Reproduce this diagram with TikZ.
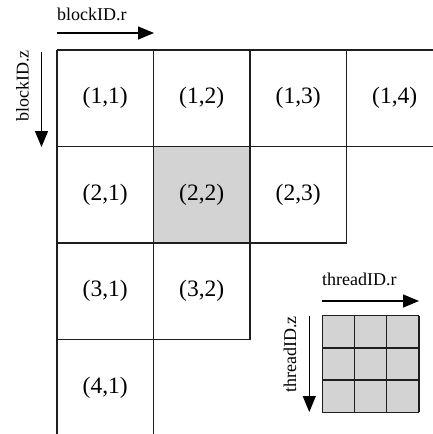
\documentclass[tikz,border=0pt]{standalone}
\usepackage{fontspec}
\setmainfont{Liberation Serif}
\usetikzlibrary{arrows.meta}
\definecolor{gridline}{HTML}{1E1E1E}
\definecolor{cellgrey}{HTML}{D3D3D3}
\tikzset{
  gridl/.style={draw=gridline, line width=1.5pt},
  idx/.style={font=\fontsize{23.5}{23.5}\selectfont, inner sep=0pt},
  axislabel/.style={font=\fontsize{18}{18}\selectfont, inner sep=0pt},
  axisarrow/.style={draw=black, line width=1.3pt, -{Triangle[length=16pt,width=13pt]}},
}
\begin{document}
\begin{tikzpicture}[x=1pt,y=-1pt]
\useasboundingbox (0,0) rectangle (433,434);
% highlighted block
\fill[cellgrey] (153.5,146.5) rectangle (250,243);
% staircase grid of blocks
\draw[gridl] (57,50) -- (433,50);
\draw[gridl] (57,146.5) -- (433,146.5);
\draw[gridl] (57,243) -- (346.5,243);
\draw[gridl] (57,339.5) -- (250,339.5);
\draw[gridl] (57,50) -- (57,434);
\draw[gridl] (153.5,50) -- (153.5,434);
\draw[gridl] (250,50) -- (250,339.5);
\draw[gridl] (346.5,50) -- (346.5,243);
% block indices
\node[idx] (b11) at (105.25,98.25) {(1,1)};
\node[idx] (b12) at (201.75,98.25) {(1,2)};
\node[idx] (b13) at (298.25,98.25) {(1,3)};
\node[idx] (b14) at (394.75,98.25) {(1,4)};
\node[idx] (b21) at (105.25,194.75) {(2,1)};
\node[idx] (b22) at (201.75,194.75) {(2,2)};
\node[idx] (b23) at (298.25,194.75) {(2,3)};
\node[idx] (b31) at (105.25,291.25) {(3,1)};
\node[idx] (b32) at (201.75,291.25) {(3,2)};
\node[idx] (b41) at (105.25,387.75) {(4,1)};
% block axes
\coordinate (br0) at (57,33);
\coordinate (br1) at (154,33);
\draw[axisarrow] (br0) -- (br1);
\node[axislabel, anchor=base west] (blr) at (57,20.5) {blockID.r};
\coordinate (bz0) at (41.5,52);
\coordinate (bz1) at (41.5,147);
\draw[axisarrow] (bz0) -- (bz1);
\node[axislabel, anchor=base east, rotate=90] (blz) at (28.5,50) {blockID.z};
% thread block
\fill[cellgrey] (322.3,315.7) rectangle (419,412.3);
\foreach \k in {0,1,2,3}{
  \draw[gridl, line width=1.3pt] (322.3+32.23*\k,315.7) -- (322.3+32.23*\k,412.3);
  \draw[gridl, line width=1.3pt] (322.3,315.7+32.2*\k) -- (419,315.7+32.2*\k);
}
% thread axes
\coordinate (tr0) at (322,301);
\coordinate (tr1) at (419,301);
\draw[axisarrow] (tr0) -- (tr1);
\node[axislabel, anchor=base west] (thr) at (322,285.5) {threadID.r};
\coordinate (tz0) at (309.3,316);
\coordinate (tz1) at (309.3,412);
\draw[axisarrow] (tz0) -- (tz1);
\node[axislabel, anchor=base east, rotate=90] (thz) at (296,316) {threadID.z};
\end{tikzpicture}
\end{document}
